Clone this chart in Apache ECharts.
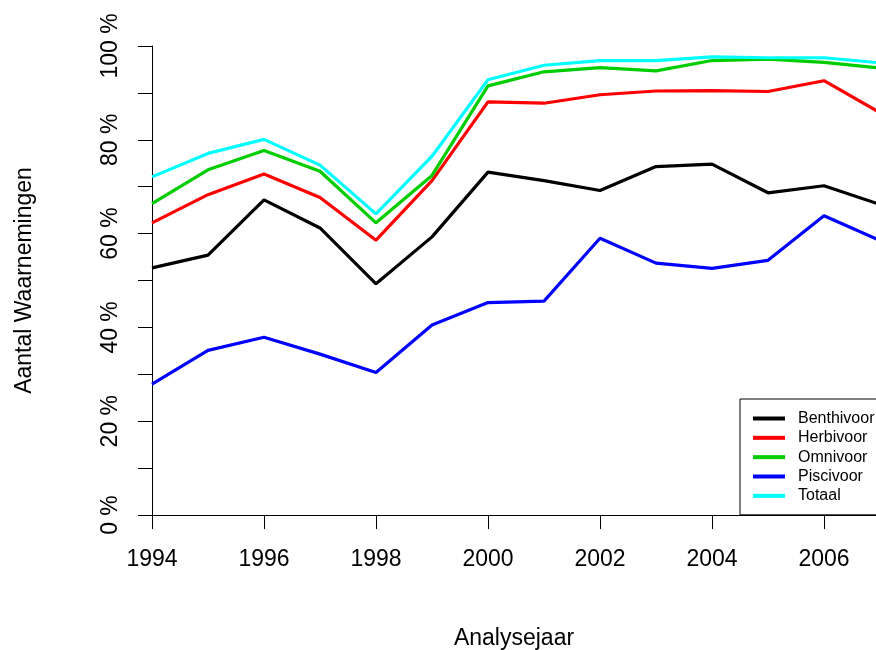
<!DOCTYPE html>
<html>
<head>
<meta charset="utf-8">
<script src="https://cdn.jsdelivr.net/npm/echarts@6/dist/echarts.min.js"></script>
<style>
html,body{margin:0;padding:0;background:#fff;}
#chart{width:876px;height:650px;}
</style>
</head>
<body>
<div id="chart"></div>
<script>
var years = [1994,1995,1996,1997,1998,1999,2000,2001,2002,2003,2004,2005,2006,2007];
var benthivoor = [52.7,55.4,67.2,61.2,49.3,59.3,73.1,71.3,69.2,74.3,74.8,68.7,70.2,66.2];
var herbivoor  = [62.3,68.3,72.7,67.7,58.6,71.3,88.1,87.8,89.6,90.4,90.5,90.3,92.6,85.8];
var omnivoor   = [66.4,73.6,77.7,73.3,62.3,72.4,91.5,94.5,95.4,94.7,96.9,97.2,96.5,95.3];
var piscivoor  = [27.9,35.1,37.9,34.3,30.4,40.5,45.3,45.6,59.0,53.7,52.6,54.3,63.8,58.5];
var totaal     = [72.1,77.1,80.1,74.6,64.2,76.5,92.8,95.9,96.9,96.9,97.7,97.5,97.5,96.4];
var seriesNames = ['Benthivoor','Herbivoor','Omnivoor','Piscivoor','Totaal'];
var xTickYears = [1994,1996,1998,2000,2002,2004,2006];
var yTickValues = [0,10,20,30,40,50,60,70,80,90,100];

var FONT = "'Liberation Sans', Arial, Helvetica, sans-serif";
var colors = ['#000000','#ff0000','#00cd00','#0000ff','#00ffff'];
var allValues = [benthivoor, herbivoor, omnivoor, piscivoor, totaal];

function pairs(vals){ return years.map(function(y,i){ return [y, vals[i]]; }); }

var chart = echarts.init(document.getElementById('chart'), null, {renderer:'canvas'});
var option = {
  animation: false,
  backgroundColor: '#fff',
  textStyle: {fontFamily: FONT},
  grid: {left:152, right:0, top:46, bottom:135, containLabel:false, outerBoundsMode:'none'},
  xAxis: {
    type:'value', min:1994, max:1994 + 724/56, interval:2,
    name:'Analysejaar', nameLocation:'middle', nameGap:112,
    nameTextStyle:{fontFamily:FONT, fontSize:23, color:'#000'},
    axisLine:{show:true, onZero:false, lineStyle:{color:'#000', width:1}},
    axisTick:{show:true, length:14, customValues: xTickYears, lineStyle:{color:'#000', width:1}},
    axisLabel:{margin:33, fontFamily:FONT, fontSize:23, color:'#000', customValues: xTickYears,
      formatter:function(v){ return String(v); }},
    splitLine:{show:false}
  },
  yAxis: {
    type:'value', min:0, max:100, interval:10,
    name:'Aantal Waarnemingen', nameLocation:'middle', nameGap:116, nameRotate:90,
    nameTextStyle:{fontFamily:FONT, fontSize:23, color:'#000'},
    axisLine:{show:true, onZero:false, lineStyle:{color:'#000', width:1}},
    axisTick:{show:true, length:14, customValues: yTickValues, lineStyle:{color:'#000', width:1}},
    axisLabel:{margin:30, rotate:90, fontFamily:FONT, fontSize:23, color:'#000',
      formatter:function(v){ return (v % 20 === 0) ? (v + ' %') : ''; }},
    splitLine:{show:false}
  },
  legend: {
    data: seriesNames,
    orient:'vertical', left:740, top:399,
    padding:[11.5, 70, 11, 13],
    itemGap:3.33, itemWidth:32, itemHeight:4, icon:'rect',
    borderColor:'#000', borderWidth:1, borderRadius:0, backgroundColor:'#fff',
    textStyle:{fontFamily:FONT, fontSize:16, color:'#000', lineHeight:16, padding:[0,0,0,8]}
  },
  series: seriesNames.map(function(n,i){
    return {
      name:n, type:'line', data:pairs(allValues[i]),
      symbol:'none', showSymbol:false, clip:true,
      lineStyle:{color:colors[i], width:3.2},
      itemStyle:{color:colors[i]}
    };
  })
};
chart.setOption(option);
</script>
</body>
</html>
